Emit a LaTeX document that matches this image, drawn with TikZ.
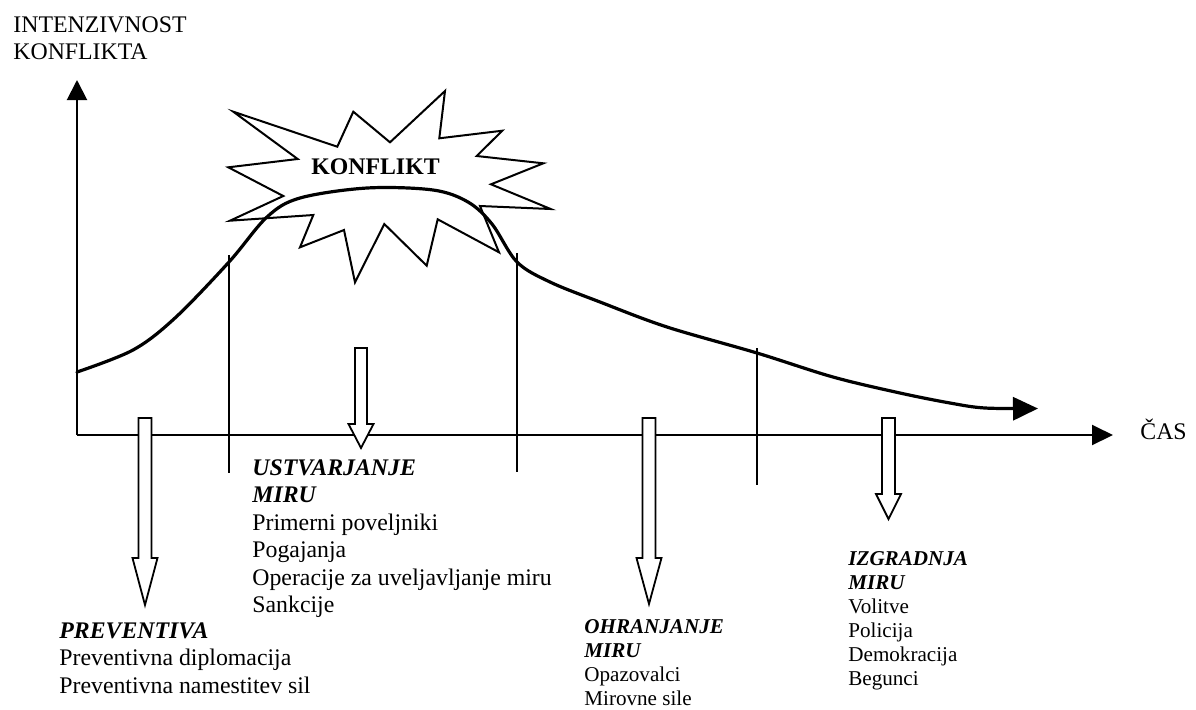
\documentclass[tikz,border=0pt]{standalone}
\usepackage{fontspec}
\setmainfont{Liberation Serif}
\usetikzlibrary{arrows.meta}
\newcommand\blockdown[5]{%
  \draw[blockarr] (#1-#5,#2) -- (#1+#5,#2) -- (#1+#5,#3) -- (#1+12.5,#3) -- (#1,#4)
    -- (#1-12.5,#3) -- (#1-#5,#3) -- cycle;}
\begin{document}
\begin{tikzpicture}[x=0.5pt,y=-0.5pt,
  axis/.style={line width=1pt},
  sepline/.style={line width=1pt},
  curveline/.style={line width=1.6pt, line cap=round},
  star/.style={draw, fill=white, line width=1pt, line join=miter},
  blockarr/.style={draw, fill=white, line width=0.9pt, line join=miter},
  lbl/.style={inner sep=0pt, anchor=base west, font=\fontsize{11.9}{13.75}\selectfont},
  slbl/.style={inner sep=0pt, anchor=base west, font=\fontsize{10.55}{12}\selectfont},
]
\fill[white] (0,0) rectangle (1196,709);
\useasboundingbox (0,0) rectangle (1196,709);

% coordinates of axes
\coordinate (O) at (77,435);
\coordinate (ytop) at (77,80);
\coordinate (xend) at (1113,435);

% star
\draw[star] (233.3,111.7) -- (337.3,146.7) -- (353.3,111.7) -- (390,142.3) -- (445,91)
  -- (439.3,138.3) -- (502.3,130.7) -- (476.7,156) -- (543.3,163.3) -- (491,184.3)
  -- (550.7,209) -- (480,206) -- (499,252.3) -- (437.7,219.3) -- (426.7,265.7)
  -- (384.3,224) -- (355,282.3) -- (344,230) -- (300,247.3) -- (313.3,215)
  -- (230,220.7) -- (283.3,196) -- (228.3,167.3) -- (297.7,159) -- cycle;
\node[inner sep=0pt, anchor=base, font=\fontsize{11.9}{13.75}\selectfont\bfseries] (konf) at (375.5,174) {KONFLIKT};

% separator lines
\coordinate (s1t) at (229,255); \coordinate (s1b) at (229,473);
\coordinate (s2t) at (517,253); \coordinate (s2b) at (517,472);
\coordinate (s3t) at (757,348); \coordinate (s3b) at (757,485);
\draw[sepline] (s1t) -- (s1b);
\draw[sepline] (s2t) -- (s2b);
\draw[sepline] (s3t) -- (s3b);

% axes
\draw[axis, -{Triangle[length=10pt,width=10pt]}] (O) -- (ytop);
\draw[axis, -{Triangle[length=10.5pt,width=10pt]}] (O) -- (xend);

% curve
\draw[curveline, -{Triangle[length=12.5pt,width=11.5pt]}] plot[smooth, tension=0.55] coordinates {
  (77,372) (133,350) (175,318) (229,262) (267,217) (300,198) (367,188) (433,190)
  (468,202) (492,224) (517,262) (550,282) (600,302) (667,327) (757,353) (833,377)
  (900,393) (950,403) (985,408) (1038,408.5)};

% block arrows
\blockdown{145}{418}{558}{605}{6.5}
\blockdown{361}{348}{424}{448}{6}
\blockdown{649}{418}{558}{604}{6.5}
\blockdown{888.5}{418}{494}{519}{6.5}

% labels
\node[lbl] (yl) at (13,32) {\begin{tabular}[t]{@{}l@{}}INTENZIVNOST\\KONFLIKTA\end{tabular}};
\node[lbl] (xl) at (1140,439) {ČAS};
\node[lbl] (ustv) at (252,475) {\begin{tabular}[t]{@{}l@{}}\textbf{\textit{USTVARJANJE}}\\\textbf{\textit{MIRU}}\\Primerni poveljniki\\Pogajanja\\Operacije za uveljavljanje miru\\Sankcije\end{tabular}};
\node[lbl] (prev) at (59,638) {\begin{tabular}[t]{@{}l@{}}\textbf{\textit{PREVENTIVA}}\\Preventivna diplomacija\\Preventivna namestitev sil\end{tabular}};
\node[slbl] (ohr) at (584,633) {\begin{tabular}[t]{@{}l@{}}\textbf{\textit{OHRANJANJE}}\\\textbf{\textit{MIRU}}\\Opazovalci\\Mirovne sile\end{tabular}};
\node[slbl] (izg) at (848,565) {\begin{tabular}[t]{@{}l@{}}\textbf{\textit{IZGRADNJA}}\\\textbf{\textit{MIRU}}\\Volitve\\Policija\\Demokracija\\Begunci\end{tabular}};
\end{tikzpicture}
\end{document}
